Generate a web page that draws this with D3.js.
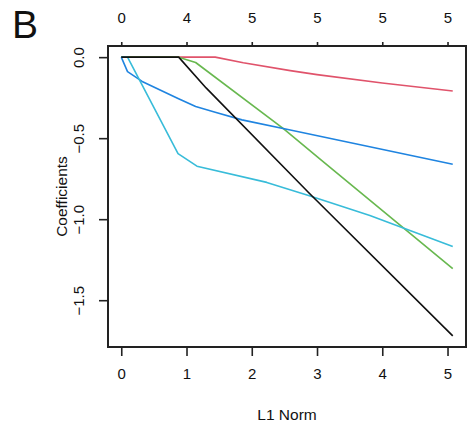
<!DOCTYPE html>
<html>
<head>
<meta charset="utf-8">
<script src="https://cdn.jsdelivr.net/npm/d3@7"></script>
<style>
    body { margin: 0; background: #fff; }
    text { font-family: "Liberation Sans", Arial, sans-serif; fill: #111; }
</style>
</head>
<body>
<div class="paint"></div>
<script>
// lasso path, L1 norm vs coefficient
var bottomTicks = [0, 1, 2, 3, 4, 5];
var topTickLabels = ["0", "4", "5", "5", "5", "5"];
var yTicks = [0, -0.5, -1.0, -1.5];

var blackPath = [[0, 0], [0.88, 0], [1.3, -0.19], [2.87, -0.835], [5.08, -1.72]];
var redPath = [[0, 0], [1.44, 0], [1.87, -0.035], [2.59, -0.083], [3.0, -0.108], [4.0, -0.16], [5.08, -0.209]];
var greenPath = [[0, 0], [0.88, 0], [1.14, -0.033], [2.48, -0.44], [3.07, -0.637], [5.08, -1.305]];
var bluePath = [[0, 0], [0.096, -0.089], [0.32, -0.15], [0.87, -0.255], [1.14, -0.305], [1.44, -0.34], [1.85, -0.387], [2.59, -0.45], [5.08, -0.661]];
var cyanPath = [[0, 0], [0.096, 0], [0.87, -0.595], [1.16, -0.673], [2.23, -0.773], [2.87, -0.854], [3.81, -0.977], [5.08, -1.168]];

var seriesPaths = [redPath, greenPath, bluePath, cyanPath, blackPath];
var seriesColors = ["#e0536b", "#68b84f", "#1f84e0", "#38bcd9", "#111111"];

var main;
(function (main) {
    function ini() {
        let svg = d3.select(".paint").append("svg")
            .attr("width", 467).attr("height", 429);

        // R style 4% padding around data range
        let xPad = 5.08 * 0.04, yPad = 1.72 * 0.04;
        let x = d3.scaleLinear().domain([0 - xPad, 5.08 + xPad]).range([108, 466]);
        let y = d3.scaleLinear().domain([-1.72 - yPad, 0 + yPad]).range([347, 46]);

        let line = d3.line().x(d => x(d[0])).y(d => y(d[1]));

        svg.selectAll(".coefLine").data(seriesPaths).enter().append("path")
            .classed("coefLine", true)
            .attr("d", line)
            .attr("fill", "none")
            .attr("stroke", (d, i) => seriesColors[i])
            .attr("stroke-width", 1.6)
            .attr("stroke-linejoin", "round");

        // box
        svg.append("rect")
            .attr("x", 108).attr("y", 46)
            .attr("width", 466 - 108).attr("height", 347 - 46)
            .attr("fill", "none").attr("stroke", "#222").attr("stroke-width", 2);

        // bottom axis
        let xAxis = d3.axisBottom(x).tickValues(bottomTicks).tickSize(9).tickPadding(12)
            .tickFormat(d3.format("d"));
        let gx = svg.append("g").attr("transform", "translate(0,347)").call(xAxis);
        gx.select(".domain").remove();

        // top axis (degrees of freedom)
        let xTop = d3.axisTop(x).tickValues(bottomTicks).tickSize(4).tickPadding(19)
            .tickFormat((d, i) => topTickLabels[i]);
        let gt = svg.append("g").attr("transform", "translate(0,46)").call(xTop);
        gt.select(".domain").remove();

        // left axis, labels parallel to axis
        let yAxis = d3.axisLeft(y).tickValues(yTicks).tickSize(9)
            .tickFormat(d => d3.format(".1f")(d).replace("-", "\u2212"));
        let gy = svg.append("g").attr("transform", "translate(108,0)").call(yAxis);
        gy.select(".domain").remove();
        gy.selectAll(".tick text")
            .attr("x", 0).attr("dy", null).attr("y", 0)
            .attr("text-anchor", "middle")
            .attr("transform", "translate(-24,0) rotate(-90)");

        svg.selectAll(".tick line").attr("stroke", "#222").attr("stroke-width", 1.6);
        svg.selectAll(".tick text").attr("font-size", 15)
            .attr("font-family", "Liberation Sans, Arial, sans-serif").attr("fill", "#111");

        svg.append("text")
            .attr("x", 287).attr("y", 420)
            .attr("text-anchor", "middle").attr("font-size", 15.5)
            .text("L1 Norm");

        svg.append("text")
            .attr("transform", "translate(67,196.5) rotate(-90)")
            .attr("text-anchor", "middle").attr("font-size", 15.5)
            .text("Coefficients");

        svg.append("text")
            .attr("x", 12).attr("y", 38)
            .attr("font-size", 39)
            .text("B");
    }
    main.ini = ini;
})(main || (main = {}));
let _main = main.ini();
</script>
</body>
</html>
